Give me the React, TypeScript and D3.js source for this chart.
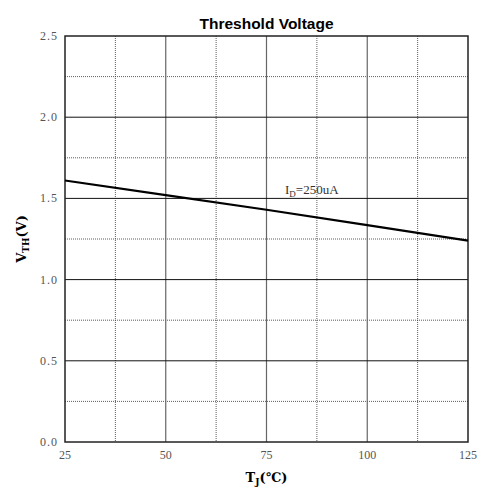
import React from 'react';
import * as d3 from 'd3';

const temps = [25, 50, 75, 100, 125];
const vth = [1.61, 1.52, 1.43, 1.335, 1.24];
const xTicks = [25, 50, 75, 100, 125];
const yTicks = [0, 0.5, 1.0, 1.5, 2.0, 2.5];
const xMinor = [37.5, 62.5, 87.5, 112.5];
const yMinor = [0.25, 0.75, 1.25, 1.75, 2.25];

const width = 483;
const height = 494;
const m = { left: 65, right: 15, top: 36, bottom: 52 };

const serif = '"Liberation Serif", "DejaVu Serif", serif';

const App = () => {
  const x = d3.scaleLinear().domain([25, 125]).range([m.left, width - m.right]);
  const y = d3.scaleLinear().domain([0, 2.5]).range([height - m.bottom, m.top]);

  const line = d3.line<number>()
    .x((d, i) => x(temps[i]))
    .y(d => y(d));

  const [x0, x1] = x.range();
  const [y0, y1] = y.range();

  return (
    <svg width={width} height={height} style={{ position: 'absolute', left: 0, top: 0 }}>
      <rect width={width} height={height} fill="#fff" />
      {/* minor dotted grid */}
      {xMinor.map(t => (
        <line key={'xm' + t} x1={x(t)} x2={x(t)} y1={y1} y2={y0} stroke="#333" strokeWidth={0.8} strokeDasharray="1,1" />
      ))}
      {yMinor.map(t => (
        <line key={'ym' + t} x1={x0} x2={x1} y1={y(t)} y2={y(t)} stroke="#333" strokeWidth={0.8} strokeDasharray="1,1" />
      ))}
      {/* major grid */}
      {xTicks.slice(1, -1).map(t => (
        <line key={'xg' + t} x1={x(t)} x2={x(t)} y1={y1} y2={y0} stroke="#666" strokeWidth={1.2} />
      ))}
      {yTicks.slice(1, -1).map(t => (
        <line key={'yg' + t} x1={x0} x2={x1} y1={y(t)} y2={y(t)} stroke="#111" strokeWidth={1} />
      ))}
      <rect x={x0} y={y1} width={x1 - x0} height={y0 - y1} fill="none" stroke="#222" strokeWidth={1.5} />

      <path d={line(vth) || ''} fill="none" stroke="#000" strokeWidth={2.2} />

      {xTicks.map(t => (
        <text key={'xt' + t} x={x(t)} y={y0 + 17} textAnchor="middle" fontFamily={serif} fontSize={12} fill="#555">{t}</text>
      ))}
      {yTicks.map(t => (
        <text key={'yt' + t} x={x0 - 7} y={y(t) + 4} textAnchor="end" fontFamily={serif} fontSize={12} fill="#555" letterSpacing={1}>{d3.format('.1f')(t)}</text>
      ))}

      <text x={(x0 + x1) / 2} y={29} textAnchor="middle" fontFamily="Arial, 'Liberation Sans', sans-serif" fontWeight="bold" fontSize={15.5}>Threshold Voltage</text>

      <text x={285} y={194} fontFamily={serif} fontSize={13} fill="#333">
        I<tspan fontSize={9} dy={3}>D</tspan><tspan dy={-3}>=250uA</tspan>
      </text>

      <text x={(x0 + x1) / 2} y={482} textAnchor="middle" fontFamily='"DejaVu Serif", serif' fontWeight="bold" fontSize={13}>
        T<tspan fontSize={9} dy={3}>J</tspan><tspan dy={-3}>(℃)</tspan>
      </text>

      <text transform={`translate(26,${(y0 + y1) / 2}) rotate(-90)`} textAnchor="middle" fontFamily='"DejaVu Serif", serif' fontWeight="bold" fontSize={13}>
        V<tspan fontSize={9} dy={3}>TH</tspan><tspan dy={-3}>(V)</tspan>
      </text>
    </svg>
  );
};

export default App;
